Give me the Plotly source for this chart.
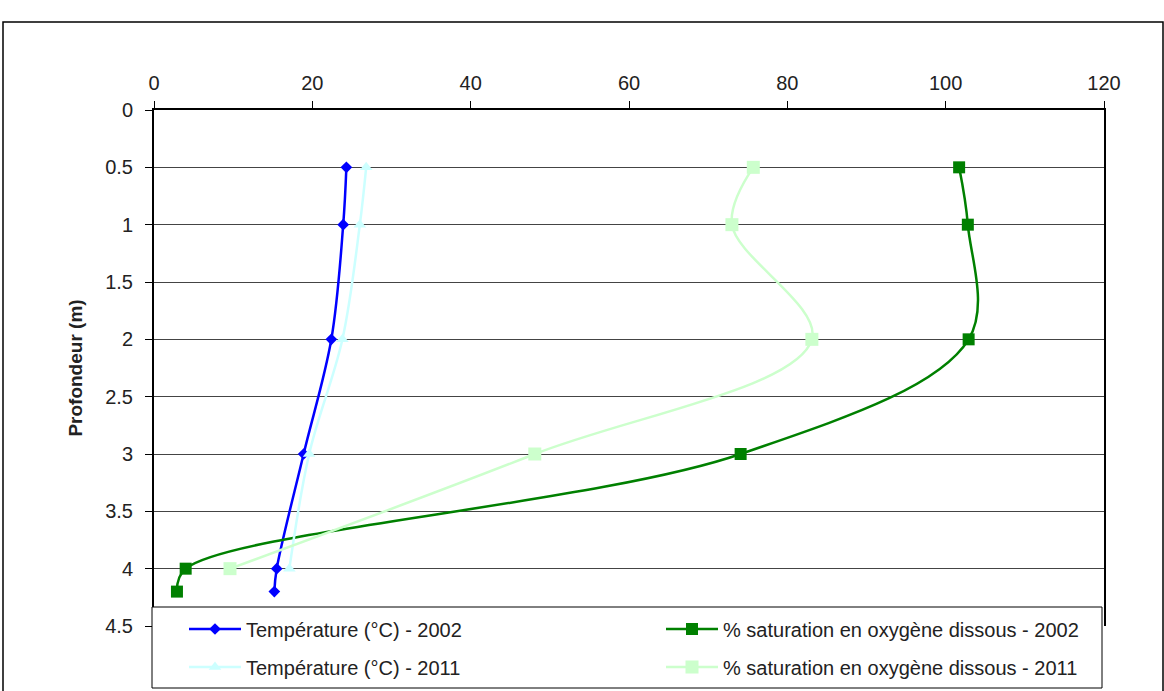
import plotly.graph_objects as go

depth_2002 = [0.5, 1, 2, 3, 4, 4.2]
depth_2011 = [0.5, 1, 2, 3, 4]
temp_2002 = [24.3, 23.9, 22.4, 18.9, 15.5, 15.2]
temp_2011 = [26.8, 26.0, 23.8, 19.6, 17.1]
o2_2002 = [101.7, 102.8, 102.9, 74.1, 4.0, 2.9]
o2_2011 = [75.7, 73.0, 83.1, 48.1, 9.6]

names = [
    "Température (°C) - 2002",
    "% saturation en oxygène dissous - 2002",
    "Température (°C) - 2011",
    "% saturation en oxygène dissous - 2011",
]

W, H = 1164, 691
L, R, T, B = 154, 60, 110, 65
pw, ph = W - L - R, H - T - B


def px_x(p):
    return (p - L) / pw


def px_y(p):
    return (H - B - p) / ph


font = dict(family="Liberation Sans, Arial, sans-serif", size=20, color="#222222")

fig = go.Figure()
fig.add_trace(go.Scatter(
    x=temp_2002, y=depth_2002, name=names[0], mode="lines+markers",
    line=dict(color="#0000FF", width=2.5, shape="spline"),
    marker=dict(symbol="diamond", size=9, color="#0000FF"), legend="legend"))
fig.add_trace(go.Scatter(
    x=o2_2002, y=depth_2002, name=names[1], mode="lines+markers",
    line=dict(color="#008000", width=2.5, shape="spline"),
    marker=dict(symbol="square", size=12, color="#008000"), legend="legend2"))
fig.add_trace(go.Scatter(
    x=temp_2011, y=depth_2011, name=names[2], mode="lines+markers",
    line=dict(color="#CCFFFF", width=2.5, shape="spline"),
    marker=dict(symbol="triangle-up", size=11, color="#CCFFFF"), legend="legend3"))
fig.add_trace(go.Scatter(
    x=o2_2011, y=depth_2011, name=names[3], mode="lines+markers",
    line=dict(color="#CCFFCC", width=2.5, shape="spline"),
    marker=dict(symbol="square", size=13, color="#CCFFCC"), legend="legend4"))

legend_common = dict(
    orientation="h", xanchor="left", yanchor="middle",
    bgcolor="rgba(255,255,255,0)", borderwidth=0, font=font,
    itemwidth=52,
)
col1, col2 = 184, 661
row1, row2 = 629, 667

fig.update_layout(
    width=W, height=H,
    margin=dict(l=L, r=R, t=T, b=B, autoexpand=False),
    paper_bgcolor="white", plot_bgcolor="white",
    font=font,
    showlegend=True,
    legend=dict(legend_common, x=px_x(col1), y=px_y(row1)),
    legend2=dict(legend_common, x=px_x(col2), y=px_y(row1)),
    legend3=dict(legend_common, x=px_x(col1), y=px_y(row2)),
    legend4=dict(legend_common, x=px_x(col2), y=px_y(row2)),
    xaxis=dict(
        range=[0, 120], dtick=20, side="top", showgrid=False, zeroline=False,
        showline=True, linecolor="black", linewidth=2,
        ticks="outside", ticklen=7, tickcolor="black", tickfont=font,
        ticklabelstandoff=3,
    ),
    yaxis=dict(
        range=[4.5, 0], dtick=0.5, showgrid=True, gridcolor="#444444", gridwidth=1,
        zeroline=False, showline=True, linecolor="black", linewidth=2, mirror=True,
        ticks="outside", ticklen=7, tickcolor="black", tickfont=font,
        ticklabelstandoff=8,
        title=dict(text="<b>Profondeur (m)</b>", font=dict(font, size=19), standoff=18),
    ),
    shapes=[
        dict(type="rect", xref="paper", yref="paper",
             x0=px_x(3), x1=px_x(1163), y0=px_y(705), y1=px_y(22),
             line=dict(color="black", width=1.5), fillcolor="rgba(0,0,0,0)", layer="below"),
        dict(type="rect", xref="paper", yref="paper",
             x0=px_x(152), x1=px_x(1102), y0=px_y(688), y1=px_y(607),
             line=dict(color="black", width=1), fillcolor="white", layer="above"),
    ],
)

fig.write_html("out.html", config={"displayModeBar": False},
               post_script="document.body.style.margin='0px';")
